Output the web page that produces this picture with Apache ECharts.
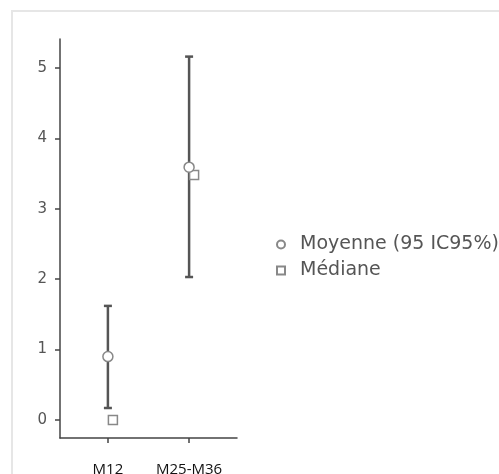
<!DOCTYPE html>
<html>
<head>
<meta charset="utf-8">
<style>html,body{margin:0;padding:0;background:#fff;}#c{width:499px;height:474px;}</style>
<script src="https://cdn.jsdelivr.net/npm/echarts@6/dist/echarts.min.js"></script>
</head>
<body>
<div id="c"></div>
<script>
var categories = ['M12', 'M25-M36'];
var meanValues = [0.9, 3.59];
var ciLow = [0.17, 2.03];
var ciHigh = [1.62, 5.16];
var medianValues = [0, 3.48];
var yTicks = [0, 1, 2, 3, 4, 5];
var legendNames = ['Moyenne (95 IC95%)', 'Médiane'];

var chart = echarts.init(document.getElementById('c'), null, {renderer: 'canvas'});
var idx = categories.map(function (c, i) { return i; });

var option = {
  animation: false,
  backgroundColor: '#fff',
  graphic: [{
    type: 'rect', shape: {x: 12, y: 11, width: 520, height: 500},
    style: {fill: 'none', stroke: '#e6e6e6', lineWidth: 2}, silent: true
  }],
  grid: {left: 60, right: 262, top: 39, bottom: 36, containLabel: false, outerBoundsMode: 'none'},
  legend: {
    data: legendNames,
    orient: 'vertical',
    left: 271, top: 230,
    itemWidth: 8, itemHeight: 8, itemGap: 7,
    textStyle: {fontFamily: 'DejaVu Sans', fontSize: 19, color: '#555', padding: [0, 0, 0, 10]}
  },
  xAxis: {
    type: 'value', min: -0.59, max: 1.59,
    splitLine: {show: false},
    axisLine: {show: true, onZero: false, lineStyle: {color: '#444', width: 1.5}},
    axisTick: {show: true, length: 5, customValues: idx, lineStyle: {color: '#444', width: 1.5}},
    axisLabel: {
      customValues: idx, margin: 24,
      fontFamily: 'Open Sans', fontSize: 15, color: '#111',
      formatter: function (v) { return categories[Math.round(v)]; }
    }
  },
  yAxis: {
    type: 'value', min: -0.256, max: 5.41,
    splitLine: {show: false},
    axisLine: {show: true, onZero: false, lineStyle: {color: '#444', width: 1.5}},
    axisTick: {show: true, length: 5, customValues: yTicks, lineStyle: {color: '#444', width: 1.5}},
    axisLabel: {customValues: yTicks, margin: 13, fontFamily: 'DejaVu Sans', fontSize: 15, color: '#555'}
  },
  series: [
    {
      name: 'ci',
      type: 'custom',
      z: 2,
      data: idx.map(function (i) { return [i, ciLow[i], ciHigh[i]]; }),
      renderItem: function (params, api) {
        var x = api.value(0);
        var lo = api.coord([x, api.value(1)]);
        var hi = api.coord([x, api.value(2)]);
        var w = 4;
        var st = {stroke: '#555', lineWidth: 2.5};
        return {
          type: 'group',
          children: [
            {type: 'line', shape: {x1: lo[0], y1: lo[1], x2: hi[0], y2: hi[1]}, style: st},
            {type: 'line', shape: {x1: lo[0] - w, y1: lo[1], x2: lo[0] + w, y2: lo[1]}, style: st},
            {type: 'line', shape: {x1: hi[0] - w, y1: hi[1], x2: hi[0] + w, y2: hi[1]}, style: st}
          ]
        };
      }
    },
    {
      name: legendNames[1],
      type: 'scatter',
      z: 3,
      symbol: 'rect',
      symbolSize: 9,
      symbolOffset: [5, 0],
      itemStyle: {color: '#fff', borderColor: '#888', borderWidth: 1.5, opacity: 1},
      data: idx.map(function (i) { return [i, medianValues[i]]; })
    },
    {
      name: legendNames[0],
      type: 'scatter',
      z: 4,
      symbol: 'circle',
      symbolSize: 10,
      itemStyle: {color: '#fff', borderColor: '#888', borderWidth: 1.5, opacity: 1},
      data: idx.map(function (i) { return [i, meanValues[i]]; })
    }
  ]
};
chart.setOption(option);
</script>
</body>
</html>
